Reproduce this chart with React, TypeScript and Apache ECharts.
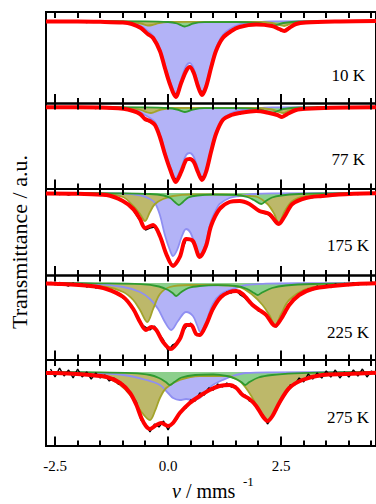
import React, { useEffect, useRef } from "react";
import * as echarts from "echarts";

type Pt = [number, number];

// ---------------- data ----------------
const temperatureLabels = ["10 K", "77 K", "175 K", "225 K", "275 K"];
const velocityTicks = [-2.5, -2, -1.5, -1, -0.5, 0, 0.5, 1, 1.5, 2, 2.5, 3, 3.5, 4, 4.5];
const velocityTickLabels = [-2.5, 0, 2.5];

// channel velocities (mm/s) of the measured spectra
const channelVelocity = [
  -2.6, -2.5, -2.4, -2.3, -2.2, -2.1, -2.0, -1.9, -1.8, -1.7,
  -1.6, -1.5, -1.4, -1.3, -1.2, -1.1, -1.0, -0.9, -0.8, -0.7,
  -0.6, -0.5, -0.4, -0.3, -0.2, -0.1, 0.0, 0.1, 0.2, 0.3,
  0.4, 0.5, 0.6, 0.7, 0.8, 0.9, 1.0, 1.1, 1.2, 1.3,
  1.4, 1.5, 1.6, 1.7, 1.8, 1.9, 2.0, 2.1, 2.2, 2.3,
  2.4, 2.5, 2.6, 2.7, 2.8, 2.9, 3.0, 3.1, 3.2, 3.3,
  3.4, 3.5, 3.6, 3.7, 3.8, 3.9, 4.0, 4.1, 4.2, 4.3,
  4.4, 4.5, 4.6,
];

// measured absorption (a.u., 0 = full transmission)
const measured10K = [
  0, 1, 0, 1, 0.5, 0, 1, 0.5, 1.5, 0.5,
  1, 0.5, 1.5, 1, 1.5, 1, 2, 2, 3.5, 4.5,
  8, 12, 15, 19, 28, 42, 57, 71, 74, 60,
  48, 45, 55, 70, 71, 56, 38, 26, 17, 13,
  10, 8, 6, 5, 4, 4, 3, 4, 4.5, 5,
  7, 10, 9, 6.5, 3.5, 2.5, 1.5, 2, 1, 1.5,
  0.5, 1, 0, 1, 0.5, 1, 0, 1, 0, 0.5,
  1, 0, 0.5,
];
const measured77K = [
  0, 1, 0, 0.5, 1, 0, 1, 0, 1, 0.5,
  1.5, 0.5, 1, 1.5, 1, 2, 1.5, 3, 4, 5.5,
  8, 13, 15, 18, 27, 42, 57, 70, 73, 63,
  53, 52, 58, 70, 70, 55, 37, 23, 14, 10,
  8, 7, 6, 5, 4.5, 4, 4.5, 5, 6, 7,
  8, 10, 8, 6, 3.5, 2.5, 2, 1, 1.5, 0.5,
  1, 1.5, 0, 1, 0.5, 0, 1, 0.5, 0, 1,
  0, 0.5, 0,
];
const measured175K = [
  1, 0, 1.5, 0.5, 2, 0.5, 1, 0, 1.5, 1,
  2, 1.5, 2.5, 3, 4, 6, 8, 11, 15, 22,
  29, 37, 35, 34, 41, 53, 66, 72, 70, 58,
  47, 46, 54, 63, 58, 42, 28, 19, 13, 10,
  9, 8, 7.5, 9.5, 11, 14, 17, 20, 21, 25,
  31, 30, 22, 14, 10, 7, 6, 4, 4.5, 3,
  3.5, 2, 3, 1, 2, 1, 1.5, 0.5, 1.5, 0,
  1, 0.5, 0,
];
const measured225K = [
  -1, 2, -0.5, 1.5, 3, 0, 2.5, 1, 4, 2,
  5, 3.5, 6, 6.5, 9, 10, 15, 17, 24, 33,
  41, 44, 47, 43, 51, 57, 68, 62, 60, 50,
  44, 40, 50, 53, 46, 35, 27, 17, 14, 9,
  10, 7, 12, 15, 20, 22, 28, 29, 35, 40,
  44, 35, 30, 20, 17, 11, 10, 6, 7, 3,
  5.5, 2, 4, 1, 3, 0.5, 2.5, -0.5, 2, 0,
  1.5, -1, 1,
];
const measured275K = [
  -3, 5, -4, 4, -2, 6, -3, 5, 0, 7,
  1, 6, 3, 9, 6, 12, 12, 19, 24, 30,
  48, 52, 60, 52, 55, 49, 58, 50, 47, 38,
  36, 28, 29, 21, 23, 16, 18, 12, 15, 11,
  15, 14, 22, 23, 29, 30, 38, 43, 52, 45,
  38, 27, 22, 13, 13, 6, 10, 2, 7, 1,
  6, -1, 5, -2, 6, 0, 5, -2, 4, -3,
  5, -1, 3,
];

// total fits [velocity, absorption]
const fit10K: Pt[] = [
  [-2.7, 0.5], [-2.0, 0.5], [-1.5, 0.8], [-1.0, 1.5], [-0.8, 3], [-0.6, 7], [-0.45, 13], [-0.33, 17],
  [-0.18, 30], [-0.07, 47], [0.04, 63], [0.17, 76], [0.29, 62], [0.4, 50], [0.48, 46], [0.57, 52],
  [0.66, 65], [0.75, 74], [0.84, 66], [0.95, 47], [1.06, 30], [1.21, 17], [1.4, 10], [1.58, 6],
  [1.95, 3.5], [2.3, 5], [2.46, 8], [2.57, 10], [2.68, 7], [2.83, 3], [3.05, 1.5], [3.8, 0.5], [4.6, 0],
];
const fit77K: Pt[] = [
  [-2.7, 0.3], [-1.5, 0.5], [-0.99, 1.7], [-0.77, 4], [-0.62, 7], [-0.51, 12], [-0.4, 14], [-0.29, 18],
  [-0.18, 30], [-0.07, 47], [0.05, 63], [0.17, 75], [0.29, 65], [0.4, 53], [0.48, 52], [0.57, 55],
  [0.66, 65], [0.75, 73], [0.84, 65], [0.95, 45], [1.06, 27], [1.21, 13], [1.4, 8], [1.58, 6],
  [1.95, 4], [2.24, 6], [2.42, 8], [2.52, 10], [2.64, 7], [2.83, 3], [3.05, 1.7], [3.6, 0.7], [4.6, 0.3],
];
const fit175K: Pt[] = [
  [-2.7, 0.5], [-2.0, 0.8], [-1.36, 2], [-1.0, 8], [-0.77, 16], [-0.62, 26], [-0.51, 35], [-0.33, 32],
  [-0.18, 43], [-0.04, 61], [0.11, 73], [0.26, 64], [0.4, 46], [0.55, 48], [0.7, 64], [0.84, 53],
  [0.95, 33], [1.14, 16], [1.36, 9], [1.58, 8], [1.8, 11], [2.02, 18], [2.24, 21], [2.39, 29],
  [2.45, 31], [2.57, 24], [2.75, 11], [3.05, 5], [3.41, 3], [3.78, 1.5], [4.6, 0.3],
];
const fit225K: Pt[] = [
  [-2.7, 0.5], [-2.5, 0.7], [-1.72, 3], [-1.36, 6], [-0.99, 14], [-0.77, 26], [-0.62, 39], [-0.49, 47],
  [-0.37, 44], [-0.26, 47], [-0.11, 59], [0.06, 66], [0.26, 56], [0.4, 42], [0.51, 42], [0.62, 51],
  [0.7, 52], [0.84, 42], [0.99, 26], [1.17, 14], [1.36, 9], [1.51, 8], [1.65, 11], [1.87, 22],
  [2.02, 27], [2.17, 32], [2.31, 41], [2.37, 43], [2.5, 36], [2.68, 22], [2.9, 12], [3.19, 6],
  [3.63, 3], [4.15, 1], [4.6, 0.3],
];
const fit275K: Pt[] = [
  [-2.7, 1], [-2.5, 1], [-1.72, 3], [-1.36, 5], [-1.06, 11], [-0.84, 21], [-0.7, 33], [-0.59, 46],
  [-0.49, 54], [-0.4, 57], [-0.26, 53], [-0.15, 51], [0.0, 54], [0.11, 51], [0.26, 41], [0.48, 31],
  [0.7, 24], [0.92, 18], [1.14, 14], [1.36, 13], [1.51, 16], [1.65, 23], [1.8, 27], [1.95, 34],
  [2.09, 44], [2.2, 49], [2.31, 44], [2.46, 31], [2.68, 16], [2.97, 8], [3.41, 3], [3.93, 2], [4.6, 0.7],
];

// sub-spectrum A (blue doublet)
const doubletA10K: Pt[] = [
  [-2.7, 0], [-1.2, 0.3], [-0.85, 1.5], [-0.6, 5], [-0.45, 10], [-0.33, 15], [-0.18, 28], [-0.07, 44],
  [0.04, 60], [0.17, 72], [0.29, 58], [0.4, 45], [0.48, 42], [0.57, 48], [0.66, 62], [0.75, 71],
  [0.84, 63], [0.95, 44], [1.06, 27], [1.21, 14], [1.4, 7], [1.58, 3.5], [1.9, 1.5], [2.3, 0.3], [4.6, 0],
];
const doubletA77K: Pt[] = [
  [-2.7, 0], [-1.2, 0.3], [-0.85, 1.5], [-0.62, 5], [-0.51, 8], [-0.4, 11], [-0.29, 15], [-0.18, 27],
  [-0.07, 44], [0.05, 60], [0.17, 71], [0.29, 61], [0.4, 48], [0.48, 46], [0.57, 50], [0.66, 61],
  [0.75, 70], [0.84, 62], [0.95, 43], [1.06, 25], [1.21, 12], [1.4, 6], [1.58, 3.5], [1.9, 1.5], [2.3, 0.3], [4.6, 0],
];
const doubletA175K: Pt[] = [
  [-2.7, 0], [-1.0, 0.5], [-0.6, 2.5], [-0.4, 6], [-0.29, 10], [-0.18, 22], [-0.07, 42], [0.04, 57],
  [0.11, 63], [0.2, 57], [0.3, 44], [0.4, 36], [0.5, 40], [0.6, 53], [0.69, 63], [0.78, 57],
  [0.88, 42], [0.95, 28], [1.06, 17], [1.14, 11], [1.36, 5], [1.58, 3], [1.9, 1], [2.3, 0.3], [4.6, 0],
];
const doubletA225K: Pt[] = [
  [-2.7, 0], [-1.72, 0.7], [-0.99, 4], [-0.62, 9], [-0.4, 16], [-0.22, 26], [-0.07, 39], [0.07, 47],
  [0.22, 38], [0.4, 29], [0.55, 33], [0.65, 43], [0.71, 49], [0.84, 39], [0.99, 21], [1.17, 11],
  [1.43, 6], [1.73, 2], [2.17, 0.7], [3.0, 0.2], [4.6, 0],
];
const doubletA275K: Pt[] = [
  [-2.7, 0], [-1.7, 0.8], [-0.99, 3], [-0.48, 8], [-0.18, 13], [0.0, 21], [0.11, 26], [0.26, 28],
  [0.4, 27], [0.55, 28], [0.7, 26], [0.84, 19], [0.99, 13], [1.21, 8], [1.43, 4], [1.73, 1],
  [2.3, 0.3], [4.6, 0],
];

// sub-spectrum B (green doublet)
const doubletB10K: Pt[] = [
  [-2.7, 0], [-0.5, 0.3], [0.0, 1], [0.2, 2.5], [0.3, 4.5], [0.37, 5.5], [0.45, 4.5], [0.55, 2.5],
  [0.8, 1.2], [1.5, 1], [2.0, 2], [2.15, 3.5], [2.3, 5], [2.4, 4], [2.55, 2], [2.9, 0.5], [4.6, 0],
];
const doubletB77K: Pt[] = [
  [-2.7, 0], [-0.5, 0.3], [0.0, 1], [0.2, 2.5], [0.3, 4.2], [0.37, 5], [0.45, 4.2], [0.55, 2.5],
  [0.8, 1.2], [1.5, 1.2], [2.0, 2.2], [2.15, 4], [2.3, 6], [2.4, 4.5], [2.55, 2], [2.9, 0.5], [4.6, 0],
];
const doubletB175K: Pt[] = [
  [-2.7, 0], [-1.0, 0.3], [-0.4, 1], [-0.1, 2.5], [0.05, 5], [0.15, 9], [0.24, 12], [0.33, 9],
  [0.45, 4.5], [0.65, 2.5], [1.0, 1.7], [1.5, 2], [1.75, 4], [1.9, 7], [2.06, 11], [2.15, 8.5],
  [2.3, 4.5], [2.5, 2.5], [2.9, 1], [3.5, 0.4], [4.6, 0],
];
const doubletB225K: Pt[] = [
  [-2.7, 0], [-1.5, 0.3], [-0.6, 1.2], [-0.2, 3.5], [0.0, 7], [0.1, 10], [0.18, 13], [0.28, 9.5],
  [0.45, 5], [0.7, 3], [1.1, 2.2], [1.5, 3], [1.75, 6], [1.9, 10], [1.98, 12], [2.08, 9.5],
  [2.3, 5], [2.6, 2.5], [3.2, 1], [4.6, 0.2],
];
const doubletB275K: Pt[] = [
  [-2.7, 0], [-1.5, 0.3], [-0.8, 1.2], [-0.4, 3], [-0.2, 6], [-0.05, 10], [0.04, 13], [0.14, 10],
  [0.3, 5.5], [0.6, 3], [1.0, 2.5], [1.3, 4], [1.5, 7], [1.62, 10], [1.71, 13], [1.8, 10],
  [2.0, 5.5], [2.3, 3], [2.8, 1.3], [3.5, 0.4], [4.6, 0],
];

// sub-spectrum C (olive doublet)
const doubletC10K: Pt[] = [
  [-2.7, 0], [-1.2, 0.3], [-0.8, 1], [-0.6, 2.5], [-0.45, 4.5], [-0.35, 4], [-0.2, 2], [0.0, 1],
  [1.0, 0.8], [2.0, 1], [2.3, 2], [2.45, 4], [2.57, 5], [2.7, 3], [2.9, 1], [3.3, 0.3], [4.6, 0],
];
const doubletC77K: Pt[] = [
  [-2.7, 0], [-1.2, 0.3], [-0.8, 1.2], [-0.6, 3], [-0.45, 5.5], [-0.38, 6], [-0.3, 5], [-0.15, 2.5],
  [0.1, 1], [1.0, 0.8], [2.0, 1], [2.3, 2.5], [2.45, 5], [2.55, 6], [2.65, 4], [2.85, 1.5], [3.3, 0.4], [4.6, 0],
];
const doubletC175K: Pt[] = [
  [-2.7, 0], [-1.5, 0.5], [-1.0, 4], [-0.77, 13], [-0.62, 21], [-0.51, 28], [-0.4, 19], [-0.29, 11],
  [-0.11, 6], [0.11, 3], [0.5, 1.5], [1.2, 1.5], [1.8, 3], [1.98, 4], [2.2, 11], [2.35, 21],
  [2.45, 31], [2.57, 19], [2.75, 8], [3.05, 3], [3.5, 1], [4.6, 0.3],
];
const doubletC225K: Pt[] = [
  [-2.7, 0.5], [-1.36, 4], [-0.99, 9], [-0.77, 17], [-0.62, 27], [-0.46, 39], [-0.33, 26], [-0.18, 11],
  [0.04, 4], [0.48, 2], [1.0, 2], [1.58, 4], [1.87, 12], [2.09, 22], [2.24, 32], [2.37, 42],
  [2.5, 31], [2.68, 17], [3.05, 6], [3.56, 2], [4.6, 0.5],
];
const doubletC275K: Pt[] = [
  [-2.7, 1], [-1.72, 3], [-1.36, 6], [-1.06, 13], [-0.84, 23], [-0.62, 38], [-0.4, 48], [-0.29, 39],
  [-0.18, 26], [-0.04, 16], [0.26, 8], [0.7, 4], [1.28, 4], [1.58, 9], [1.8, 21], [2.02, 38],
  [2.2, 49], [2.39, 38], [2.61, 21], [2.9, 9], [3.41, 4], [4.15, 1], [4.6, 0.5],
];

const measuredSets = [measured10K, measured77K, measured175K, measured225K, measured275K];
const fitSets = [fit10K, fit77K, fit175K, fit225K, fit275K];
const doubletASets = [doubletA10K, doubletA77K, doubletA175K, doubletA225K, doubletA275K];
const doubletBSets = [doubletB10K, doubletB77K, doubletB175K, doubletB225K, doubletB275K];
const doubletCSets = [doubletC10K, doubletC77K, doubletC175K, doubletC225K, doubletC275K];

// ---------------- layout ----------------
const PANEL_TOP = [12, 103.5, 189, 275.5, 360];
const PANEL_H = [91.5, 85.5, 86.5, 84.5, 86];
const PANEL_Y = [
  [-9, 82.5],
  [-3.5, 82],
  [-4, 82.5],
  [-7.5, 77],
  [-12, 74],
];
const LABEL_POS = [
  [365, 75.5],
  [365, 159],
  [369, 245],
  [369, 332],
  [369, 417],
];
const SERIF = '"Liberation Serif", "Times New Roman", serif';

export default function App() {
  const ref = useRef<HTMLDivElement>(null);

  useEffect(() => {
    document.body.style.margin = "0";
    if (!ref.current) return;
    const chart = echarts.init(ref.current, undefined, { renderer: "svg" });

    const idx = [0, 1, 2, 3, 4];

    const xAxis = idx.map((i) => ({
      gridIndex: i,
      type: "value",
      min: -2.7,
      max: 4.6,
      position: "bottom",
      axisLine: { show: false },
      axisTick: { show: false },
      splitLine: { show: false },
      axisLabel: {
        show: i === 4,
        customValues: velocityTickLabels,
        formatter: (v: number) => v.toFixed(1),
        fontFamily: SERIF,
        fontSize: 15,
        color: "#000",
        margin: 12,
      },
    }));

    const series: any[] = [];
    idx.forEach((i) => {
      const common = { type: "line", xAxisIndex: i, yAxisIndex: i, showSymbol: false, symbol: "none" };
      series.push({
        ...common,
        name: "A" + i,
        data: doubletASets[i],
        smooth: 0.35,
        lineStyle: { color: "#8f8ff2", width: 1.8 },
        areaStyle: { color: "#b3b3f7", opacity: 1 },
      });
      series.push({
        ...common,
        name: "C" + i,
        data: doubletCSets[i],
        smooth: 0.35,
        lineStyle: { color: "#a3a32a", width: 1.8 },
        areaStyle: { color: "#bdb86a", opacity: 1 },
      });
      series.push({
        ...common,
        name: "B" + i,
        data: doubletBSets[i],
        smooth: 0.35,
        lineStyle: { color: "#2f9a2f", width: 1.8 },
        areaStyle: { color: "#8ccf8c", opacity: 1 },
      });
      series.push({
        ...common,
        name: "data" + i,
        data: channelVelocity.map((v, k) => [v, measuredSets[i][k]]),
        lineStyle: { color: "#000", width: 1.4 },
      });
      series.push({
        ...common,
        name: "fit" + i,
        data: fitSets[i],
        smooth: 0.3,
        lineStyle: { color: "#ff0000", width: 4 },
      });
    });

    const texts: any[] = [];
    idx.forEach((i) => {
      texts.push({
        type: "text",
        x: LABEL_POS[i][0],
        y: LABEL_POS[i][1],
        style: {
          text: temperatureLabels[i],
          fontFamily: SERIF,
          fontSize: 17,
          fill: "#000",
          align: "right",
          verticalAlign: "middle",
        },
      });
    });
    texts.push({
      type: "text",
      x: 19,
      y: 242,
      rotation: Math.PI / 2,
      style: {
        text: "Transmittance / a.u.",
        fontFamily: SERIF,
        fontSize: 22,
        fill: "#000",
        align: "center",
        verticalAlign: "middle",
      },
    });
    texts.push({
      type: "text",
      x: 172,
      y: 491,
      style: {
        text: "{i|v} / mms",
        fontFamily: SERIF,
        fontSize: 20,
        fill: "#000",
        align: "left",
        verticalAlign: "middle",
        rich: { i: { fontStyle: "italic", fontFamily: SERIF, fontSize: 20, color: "#000" } },
      },
    });
    texts.push({
      type: "text",
      x: 243,
      y: 481,
      style: {
        text: "-1",
        fontFamily: SERIF,
        fontSize: 13,
        fill: "#000",
        align: "left",
        verticalAlign: "middle",
      },
    });

    chart.setOption({
      animation: false,
      backgroundColor: "#fff",
      grid: idx.map((i) => ({
        left: 46,
        top: PANEL_TOP[i],
        width: 331,
        height: PANEL_H[i],
        show: true,
        borderColor: "#000",
        borderWidth: 2,
        backgroundColor: "transparent",
      })),
      xAxis,
      yAxis: idx.map((i) => ({
        gridIndex: i,
        type: "value",
        inverse: true,
        min: PANEL_Y[i][0],
        max: PANEL_Y[i][1],
        show: false,
      })),
      series,
    });

    // tick marks placed through each panel's x scale
    const ticks: any[] = [];
    idx.forEach((i) => {
      const top = PANEL_TOP[i];
      const bottom = PANEL_TOP[i] + PANEL_H[i];
      velocityTicks.forEach((v) => {
        const px = Math.round(chart.convertToPixel({ xAxisIndex: i }, v) as number);
        const major = velocityTickLabels.indexOf(v) >= 0;
        ticks.push({
          type: "rect",
          z: 100,
          silent: true,
          shape: { x: px - 1, y: bottom - (major ? 9.5 : 5.5), width: 2, height: major ? 9.5 : 5.5 },
          style: { fill: "#000" },
        });
        ticks.push({
          type: "rect",
          z: 100,
          silent: true,
          shape: { x: px - 1, y: top, width: 2, height: 6 },
          style: { fill: "#000" },
        });
      });
    });

    chart.setOption({ graphic: [...texts, ...ticks] });

    return () => chart.dispose();
  }, []);

  return <div ref={ref} style={{ width: 376, height: 504 }} />;
}
